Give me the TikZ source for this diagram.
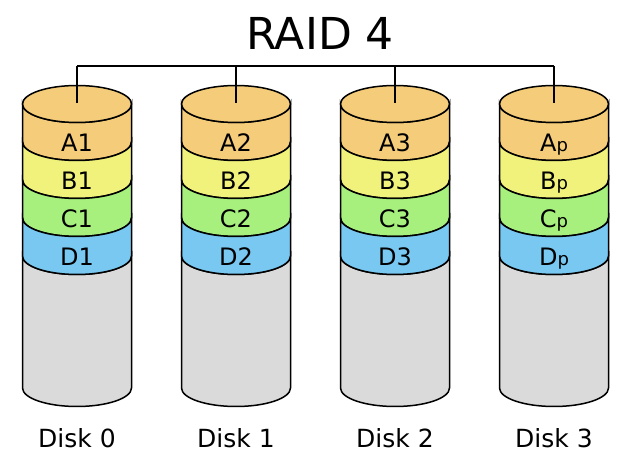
\documentclass[tikz,border=0pt]{standalone}
\usepackage{fontspec}
\setmainfont{DejaVu Sans}
\def\disksep{159}
\def\rx{54.5pt}
\def\ry{18.5pt}
\def\parity{{\fontsize{18}{20}\selectfont p}}
\definecolor{bandA}{RGB}{244,204,122}
\definecolor{bandB}{RGB}{240,242,124}
\definecolor{bandC}{RGB}{168,240,126}
\definecolor{bandD}{RGB}{120,200,242}
\definecolor{body}{RGB}{218,218,218}

\begin{document}
\begin{tikzpicture}[x=1pt,y=1pt,line width=1.5pt]
            \tikzstyle{band label}=[anchor=base,font=\fontsize{24}{28}\selectfont]
            \tikzstyle{disk label}=[anchor=base,font=\fontsize{25}{30}\selectfont]
            \tikzstyle{title}=[anchor=base,font=\fontsize{44}{52}\selectfont]

            \useasboundingbox (0,0) rectangle (640,474);

            % Title
            \node[title] (TITLE) at (320,424) {RAID 4};

            % Draw the disks, one band after the other
            \foreach \d / \num in {0/1,1/2,2/3,3/\parity} {
                \pgfmathsetmacro\cx{77+\disksep*\d}
                \filldraw[fill=body] (\cx-54.5,218) -- (\cx-54.5,86)
                    arc[start angle=180, end angle=360, x radius=\rx, y radius=\ry]
                    -- (\cx+54.5,218)
                    arc[start angle=360, end angle=180, x radius=\rx, y radius=\ry] -- cycle;
                \foreach \name / \col / \ytop / \ybot in {A/bandA/370/332,B/bandB/332/294,C/bandC/294/256,D/bandD/256/218} {
                    \filldraw[fill=\col] (\cx-54.5,\ytop) -- (\cx-54.5,\ybot)
                        arc[start angle=180, end angle=360, x radius=\rx, y radius=\ry]
                        -- (\cx+54.5,\ytop)
                        arc[start angle=360, end angle=180, x radius=\rx, y radius=\ry] -- cycle;
                    \node[band label] (\name-\d) at (\cx,\ybot-10) {\name\num};
                }
                \filldraw[fill=bandA] (\cx,370) ellipse[x radius=\rx, y radius=\ry];
                \coordinate (BUS-\d) at (\cx,408);
                \coordinate (TOP-\d) at (\cx,371);
                \draw (BUS-\d) -- (TOP-\d);
                \node[disk label] (DISK-\d) at (\cx,26) {Disk \d};
            }

            % Connect the disks
            \draw (BUS-0) -- (BUS-3);
        \end{tikzpicture}
\end{document}
